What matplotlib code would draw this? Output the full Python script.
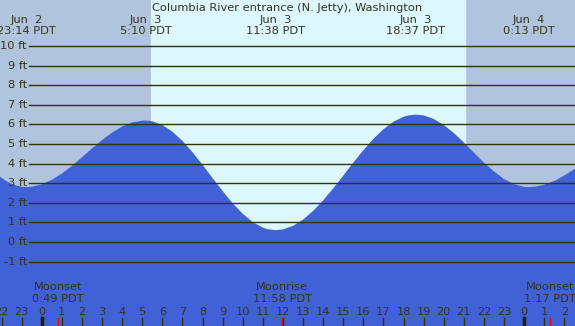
import numpy as np
import matplotlib
matplotlib.use("Agg")
import matplotlib.pyplot as plt

# Tide curve (hours from Jun 3 00:00 PDT, feet)
tide_hours = [-2.1, -1.75, -1.5, -1.25, -1.0, -0.767, -0.5, 0, 0.5, 1, 1.5, 2, 2.5,
              3, 3.5, 4, 4.5, 5, 5.167, 5.5, 6, 6.5, 7, 7.5, 8, 8.5, 9, 9.5, 10,
              10.5, 11, 11.25, 11.633, 12, 12.5, 13, 13.5, 14, 14.5, 15, 15.5, 16,
              16.5, 17, 17.5, 18, 18.25, 18.617, 19, 19.5, 20, 20.5, 21, 21.5, 22,
              22.5, 23, 23.5, 24, 24.217, 24.6, 25, 25.5, 26, 26.6]
tide_ft = [3.34, 3.10, 2.97, 2.875, 2.82, 2.8, 2.817, 2.94, 3.17, 3.49, 3.88, 4.32,
           4.77, 5.20, 5.58, 5.89, 6.10, 6.19, 6.2, 6.16, 5.97, 5.63, 5.16, 4.58,
           3.94, 3.26, 2.60, 1.97, 1.44, 1.01, 0.73, 0.65, 0.6, 0.64, 0.82, 1.14,
           1.58, 2.12, 2.73, 3.38, 4.05, 4.68, 5.26, 5.75, 6.14, 6.39, 6.46, 6.5,
           6.46, 6.28, 5.97, 5.56, 5.08, 4.56, 4.05, 3.60, 3.21, 2.95, 2.81, 2.8,
           2.83, 2.92, 3.11, 3.39, 3.78]

# High / low tide labels
ext_hours = [-0.767, 5.167, 11.633, 18.617, 24.217]
ext_days = ["Jun  2", "Jun  3", "Jun  3", "Jun  3", "Jun  4"]
ext_times = ["23:14 PDT", "5:10 PDT", "11:38 PDT", "18:37 PDT", "0:13 PDT"]

# daylight
sunrise = 5.43
sunset = 21.05

# moon events
moon_hours = [0.817, 11.967, 25.283]
moon_names = ["Moonset", "Moonrise", "Moonset"]
moon_times = ["0:49 PDT", "11:58 PDT", "1:17 PDT"]

ft_levels = list(range(-1, 11))
hour_ticks = list(range(-2, 27))
hour_labels = [str(h % 24) for h in hour_ticks]

title = "Columbia River entrance (N. Jetty), Washington"

txt = "#333318"
line_col = "#333300"
night = "#B0C4DE"
day = "#DDF7FF"
water = "#4161D6"

plt.rcParams['font.family'] = ['DejaVu Sans']

fig = plt.figure(figsize=(5.75, 3.26), dpi=100)
ax = fig.add_axes([0, 0, 1, 1])
x0, x1 = -2.075, 26.53
y0, y1 = -4.29, 12.35
ax.set_xlim(x0, x1)
ax.set_ylim(y0, y1)
ax.set_axis_off()

ax.axvspan(x0, x1, color=night, zorder=0)
ax.axvspan(sunrise, sunset, color=day, zorder=1)

ax.fill_between(tide_hours, tide_ft, y0, color=water, lw=0, zorder=2)

fs = 8.2
for f in ft_levels:
    ax.axhline(f, xmin=29 / 575, xmax=1, color=line_col, lw=1.0, zorder=3)
    ax.text(27 / 575, f, f"{f} ft", transform=ax.get_yaxis_transform(),
            ha="right", va="center", fontsize=fs, color=txt, zorder=4)

xt = ax.get_xaxis_transform()
ax.text(0.5, 1 - 7.7 / 326, title, transform=ax.transAxes, ha="center",
        va="center", fontsize=fs, color=txt)
for h, d, t in zip(ext_hours, ext_days, ext_times):
    ax.text(h, 1 - 20 / 326, d, transform=xt, ha="center", va="center",
            fontsize=fs, color=txt)
    ax.text(h, 1 - 31.5 / 326, t, transform=xt, ha="center", va="center",
            fontsize=fs, color=txt)

for h, n, t in zip(moon_hours, moon_names, moon_times):
    ax.text(h, 1 - 287.3 / 326, n, transform=xt, ha="center", va="center",
            fontsize=fs, color=txt, zorder=5)
    ax.text(h, 1 - 299.3 / 326, t, transform=xt, ha="center", va="center",
            fontsize=fs, color=txt, zorder=5)
    ax.plot([h, h], [0, 8 / 326], transform=xt, color="red", lw=1.0, zorder=5)

for h, lab in zip(hour_ticks, hour_labels):
    ax.text(h, 1 - 311.7 / 326, lab, transform=xt, ha="center", va="center",
            fontsize=fs, color=txt, zorder=5)
    if h % 24 == 0:
        ax.plot([h, h], [0, 8 / 326], transform=xt, color="#222200", lw=2.5, zorder=5)
    else:
        ax.plot([h, h], [0, 8 / 326], transform=xt, color=line_col, lw=1.0, zorder=5)

fig.savefig("out.png", dpi=100)
